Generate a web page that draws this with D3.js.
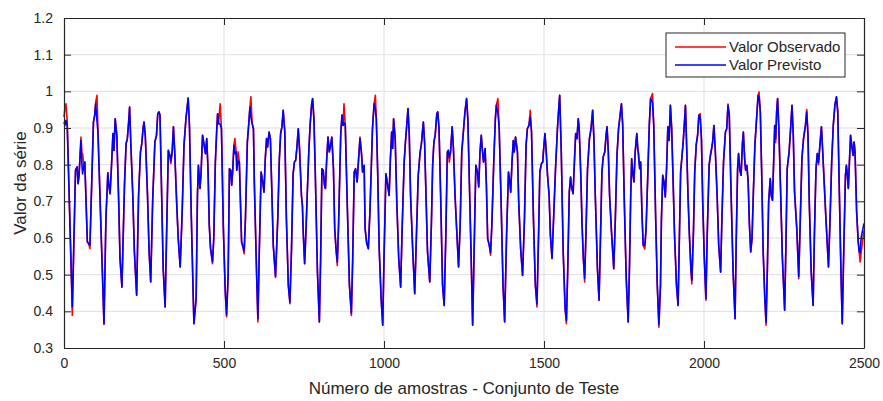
<!DOCTYPE html>
<html>
<head>
<meta charset="utf-8">
<script src="https://cdn.jsdelivr.net/npm/d3@7"></script>
<style>
  body { margin: 0; background: #fff; }
  text { font-family: "Liberation Sans", Arial, sans-serif; fill: #262626; }
</style>
</head>
<body>
<div id="chart"></div>
<script>
// Sample index of each read vertex (one line per stretch of ~310 samples)
var sampleIdx = [
  0,3,6,10,26,36,41,44,47,53,56,58,62,65,73,77,81,92,96,99,103,106,125,131,137,140,144,148,153,156,160,165,171,175,181,189,194,198,202,205,209,215,220,227,233,239,243,247,250,254,261,266,271,277,284,289,293,297,
  300,310,316,326,331,334,338,342,346,352,357,363,369,375,381,388,392,398,404,406,413,417,420,425,428,433,438,442,446,450,454,458,464,468,473,477,480,483,488,492,498,504,508,513,517,521,524,527,531,534,538,540,544,548,552,555,558,563,567,573,577,581,584,588,592,595,602,606,610,
  616,621,625,629,633,636,641,645,649,654,661,668,673,677,681,685,690,695,701,706,711,716,720,724,728,732,736,742,745,748,752,756,760,765,769,774,777,781,785,792,798,802,806,810,814,817,821,825,829,833,837,842,846,850,854,858,865,869,872,875,879,885,892,898,902,907,911,916,920,925,
  930,933,938,941,946,951,956,964,969,973,976,980,985,991,996,1000,1006,1010,1016,1020,1024,1027,1030,1035,1040,1046,1052,1057,1063,1067,1071,1075,1079,1083,1090,1096,1102,1107,1113,1117,1120,1123,1127,1131,1136,1143,1148,1152,1156,1160,1165,1168,1172,1177,1183,1188,1193,1198,1201,1204,1208,1213,1217,1222,1227,1233,1238,
  1243,1248,1253,1258,1262,1267,1272,1277,1282,1287,1292,1296,1300,1304,1307,1311,1316,1320,1324,1329,1333,1337,1343,1348,1351,1356,1360,1366,1372,1377,1383,1389,1393,1396,1400,1404,1407,1411,1417,1421,1427,1433,1439,1444,1448,1453,1457,1461,1467,1473,1478,1483,1487,1492,1496,1499,1503,1507,1511,1516,1520,1525,1530,1536,1542,1546,1549,
  1554,1560,1566,1570,1574,1579,1583,1586,1591,1595,1599,1603,1607,1610,1615,1619,1623,1627,1631,1636,1642,1647,1652,1656,1660,1667,1672,1676,1681,1685,1690,1694,1697,1701,1705,1711,1718,1723,1728,1733,1739,1742,1746,1751,1757,1763,1767,1771,1774,1777,1781,1785,1790,1793,1796,1799,1802,1806,1810,1815,1819,1824,1829,1833,1839,1843,1849,1854,1859,1864,
  1867,1871,1875,1879,1883,1887,1891,1895,1899,1903,1908,1914,1919,1923,1927,1931,1935,1939,1942,1946,1950,1954,1959,1962,1967,1971,1976,1980,1984,1988,1992,1996,2001,2006,2010,2016,2020,2023,2027,2031,2035,2041,2046,2052,2056,2061,2067,2071,2075,2079,2084,2091,2097,2101,2105,2108,2112,2116,2120,2123,2127,2130,2134,2138,2142,2146,2150,2154,2159,2165,2169,2172,2176,
  2180,2185,2190,2194,2198,2202,2207,2210,2214,2217,2221,2224,2227,2230,2234,2240,2245,2252,2256,2260,2266,2270,2275,2279,2283,2290,2296,2301,2306,2311,2317,2321,2325,2329,2335,2341,2345,2350,2354,2358,2363,2367,2371,2376,2381,2389,2394,2399,2404,2409,2414,2418,2423,2428,2432,2436,2442,2445,2448,2451,2454,2458,2463,2466,2469,2472,2477,2482,2485,2488,2491,2500
];

// Valor Observado (red)
var observed = [
  .93,.955,.966,.92,.389,.785,.794,.748,.771,.875,.83,.83,.798,.807,.589,.585,.571,.916,.935,.97,.989,.90,.364,.653,.778,.744,.721,.789,.885,.839,.925,.88,.698,.544,.466,.744,.857,.871,.916,.957,.853,.716,.562,.444,.716,.835,.857,.898,.916,.88,.716,.562,.48,.698,.862,.88,.939,.944,
  .935,.516,.412,.839,.825,.803,.835,.903,.835,.698,.598,.521,.662,.853,.925,.982,.907,.653,.435,.366,.435,.716,.798,.735,.771,.88,.853,.83,.871,.789,.635,.571,.53,.598,.807,.889,.939,.912,.966,.898,.625,.453,.385,.498,.789,.785,.744,.78,.853,.871,.835,.785,.835,.807,.68,.589,.58,.557,.653,.862,.907,.957,.985,.912,.898,.744,.498,.371,.553,
  .78,.753,.725,.816,.871,.848,.889,.871,.744,.58,.494,.653,.816,.885,.903,.948,.889,.653,.471,.421,.571,.775,.807,.812,.848,.898,.844,.716,.689,.607,.53,.616,.716,.835,.907,.966,.98,.925,.789,.507,.371,.544,.789,.785,.744,.735,.816,.875,.835,.853,.875,.789,.625,.571,.525,.635,.889,.935,.907,.966,.907,.698,.471,.389,.535,.78,.789,.753,.807,.875,
  .83,.78,.798,.625,.585,.571,.671,.898,.966,.989,.925,.789,.571,.435,.362,.544,.775,.753,.716,.816,.889,.844,.925,.871,.698,.544,.466,.635,.807,.862,.907,.953,.88,.716,.562,.448,.625,.771,.835,.857,.889,.916,.857,.725,.562,.48,.635,.798,.862,.88,.939,.944,.898,.716,.471,.416,.598,.835,.839,.807,.835,.903,.844,.716,.625,.521,.635,
  .835,.889,.944,.98,.925,.744,.562,.362,.58,.798,.78,.739,.835,.88,.844,.807,.844,.744,.598,.58,.553,.635,.807,.925,.962,.98,.898,.698,.471,.371,.607,.78,.753,.725,.807,.866,.835,.875,.835,.698,.571,.498,.653,.853,.898,.907,.948,.889,.653,.471,.412,.607,.78,.803,.807,.844,.885,.835,.771,.716,.607,.544,.653,.789,.898,.953,.989,
  .835,.562,.407,.366,.507,.725,.766,.739,.721,.807,.885,.871,.925,.898,.771,.635,.544,.48,.607,.789,.871,.898,.948,.871,.725,.516,.43,.58,.78,.821,.835,.88,.903,.835,.716,.616,.516,.653,.825,.898,.944,.966,.907,.698,.489,.371,.516,.716,.816,.78,.753,.835,.885,.844,.83,.789,.807,.671,.58,.57,.625,.762,.907,.98,.994,.907,.653,.471,.357,.471,
  .653,.771,.753,.712,.789,.903,.866,.962,.898,.771,.607,.471,.416,.598,.78,.821,.862,.916,.962,.844,.716,.616,.516,.475,.616,.78,.857,.88,.935,.939,.871,.698,.544,.43,.607,.798,.825,.839,.862,.907,.844,.716,.58,.507,.653,.807,.889,.898,.965,.935,.744,.507,.38,.607,.789,.83,.785,.771,.857,.889,.816,.785,.798,.753,.635,.562,.598,.716,.853,.935,.989,.998,.944,
  .789,.562,.435,.362,.516,.698,.762,.716,.703,.789,.907,.86,.944,.98,.898,.707,.544,.403,.58,.789,.835,.889,.962,.88,.725,.625,.489,.653,.816,.871,.907,.95,.88,.698,.507,.416,.607,.789,.83,.80,.862,.903,.835,.744,.653,.521,.653,.807,.907,.962,.985,.944,.725,.507,.366,.535,.771,.798,.771,.735,.798,.88,.844,.825,.862,.835,.671,.589,.562,.535,.56,.62
];

// Valor Previsto (blue)
var predicted = [
  .916,.907,.921,.907,.412,.785,.794,.748,.771,.866,.80,.775,.798,.807,.589,.585,.58,.916,.935,.966,.92,.889,.366,.653,.778,.744,.721,.789,.885,.839,.925,.88,.698,.544,.466,.744,.857,.871,.916,.957,.853,.716,.562,.444,.716,.835,.857,.898,.916,.88,.716,.562,.48,.698,.862,.88,.939,.944,
  .935,.516,.412,.839,.825,.81,.835,.903,.835,.698,.598,.521,.662,.853,.925,.982,.907,.653,.435,.366,.435,.716,.798,.735,.771,.88,.853,.83,.871,.789,.635,.571,.535,.598,.807,.889,.939,.912,.91,.898,.625,.453,.39,.498,.789,.785,.744,.78,.853,.83,.835,.785,.81,.807,.68,.589,.58,.565,.653,.862,.907,.957,.93,.912,.898,.744,.498,.38,.553,
  .78,.753,.725,.816,.871,.848,.889,.871,.744,.58,.494,.653,.816,.885,.903,.948,.889,.653,.471,.425,.571,.775,.807,.812,.848,.898,.844,.716,.689,.607,.53,.616,.716,.835,.907,.966,.98,.925,.789,.507,.371,.544,.789,.785,.744,.735,.816,.875,.835,.853,.875,.789,.625,.571,.535,.635,.889,.935,.907,.915,.907,.698,.471,.395,.535,.78,.789,.753,.807,.871,
  .825,.78,.798,.625,.585,.571,.671,.898,.966,.95,.925,.789,.571,.435,.362,.544,.775,.753,.716,.816,.889,.844,.925,.871,.698,.544,.466,.635,.807,.862,.907,.953,.88,.716,.562,.448,.625,.771,.835,.857,.889,.916,.857,.725,.562,.48,.635,.798,.862,.88,.939,.944,.898,.716,.471,.416,.598,.835,.839,.82,.835,.903,.844,.716,.625,.521,.635,
  .835,.889,.944,.98,.925,.744,.562,.362,.58,.798,.78,.739,.835,.88,.844,.807,.844,.744,.598,.58,.56,.635,.807,.925,.962,.94,.898,.698,.471,.371,.607,.78,.753,.725,.807,.866,.835,.875,.835,.698,.571,.498,.653,.853,.898,.907,.93,.889,.653,.471,.42,.607,.78,.803,.807,.844,.885,.835,.771,.716,.607,.544,.653,.789,.898,.953,.989,
  .835,.562,.407,.375,.507,.725,.766,.739,.721,.807,.885,.871,.925,.898,.771,.635,.544,.49,.607,.789,.871,.898,.948,.871,.725,.516,.43,.58,.78,.821,.835,.88,.903,.835,.716,.616,.516,.653,.825,.898,.944,.966,.907,.698,.489,.371,.516,.716,.816,.78,.753,.835,.885,.844,.816,.789,.807,.671,.58,.58,.625,.762,.907,.98,.97,.907,.653,.471,.365,.471,
  .653,.771,.753,.712,.789,.903,.866,.962,.898,.771,.607,.471,.416,.598,.78,.821,.862,.916,.962,.844,.716,.616,.516,.485,.616,.78,.857,.88,.935,.93,.871,.698,.544,.435,.607,.798,.825,.839,.862,.907,.844,.716,.58,.507,.653,.807,.889,.898,.962,.935,.744,.507,.38,.607,.789,.83,.785,.771,.857,.889,.816,.785,.798,.753,.635,.562,.598,.716,.853,.935,.989,.985,.944,
  .789,.562,.435,.37,.516,.698,.762,.716,.703,.789,.907,.871,.944,.98,.898,.707,.544,.403,.58,.789,.835,.889,.962,.88,.725,.625,.495,.653,.816,.871,.907,.944,.88,.698,.507,.416,.607,.789,.83,.807,.862,.903,.835,.744,.653,.521,.653,.807,.907,.962,.985,.944,.725,.507,.366,.535,.771,.798,.771,.735,.798,.88,.844,.825,.862,.835,.671,.589,.562,.56,.60,.64
];

var xTicks = [0, 500, 1000, 1500, 2000, 2500];
var yTicks = [0.3, 0.4, 0.5, 0.6, 0.7, 0.8, 0.9, 1.0, 1.1, 1.2];
var seriesNames = ['Valor Observado', 'Valor Previsto'];
var seriesColors = ['#ff0000', '#0000ff'];

// Set up the SVG container
var width = 883;
var height = 401;
var margin = { top: 18, right: 19, bottom: 53, left: 64 };
var innerW = width - margin.left - margin.right;
var innerH = height - margin.top - margin.bottom;
var axisColor = '#262626';

var svg = d3.select('#chart')
  .append('svg')
  .attr('width', width)
  .attr('height', height);

var g = svg.append('g')
  .attr('transform', 'translate(' + margin.left + ',' + margin.top + ')');

var x = d3.scaleLinear().domain([0, 2500]).range([0, innerW]);
var y = d3.scaleLinear().domain([0.3, 1.2]).range([innerH, 0]);

// grid lines
g.append('g')
  .selectAll('line.vgrid')
  .data(xTicks.slice(1, -1))
  .enter().append('line')
  .attr('x1', function(d) { return x(d); })
  .attr('x2', function(d) { return x(d); })
  .attr('y1', 0)
  .attr('y2', innerH)
  .style('stroke', '#dfdfdf')
  .style('stroke-width', 1);

g.append('g')
  .selectAll('line.hgrid')
  .data(yTicks.slice(1, -1))
  .enter().append('line')
  .attr('x1', 0)
  .attr('x2', innerW)
  .attr('y1', function(d) { return y(d); })
  .attr('y2', function(d) { return y(d); })
  .style('stroke', '#dfdfdf')
  .style('stroke-width', 1);

// the two series, red first so blue sits on top
var series = [observed, predicted];
var line = d3.line()
  .x(function(d, i) { return x(sampleIdx[i]); })
  .y(function(d) { return y(d); });

g.selectAll('path.series')
  .data(series)
  .enter().append('path')
  .attr('class', 'series')
  .attr('d', line)
  .style('fill', 'none')
  .style('stroke', function(d, i) { return seriesColors[i]; })
  .style('stroke-width', 1.6)
  .style('stroke-linejoin', 'round');

// axes with inward ticks on all four sides (box on)
var tickLen = 7;
function styleAxis(sel) {
  sel.select('.domain').style('stroke', axisColor).style('stroke-width', 1.2);
  sel.selectAll('.tick line').style('stroke', axisColor).style('stroke-width', 1);
  sel.selectAll('.tick text').style('font-size', '14px').style('fill', axisColor)
    .style('font-family', '"Liberation Sans", Arial, sans-serif');
}

var xAxis = g.append('g')
  .attr('transform', 'translate(0,' + innerH + ')')
  .call(d3.axisBottom(x).tickValues(xTicks).tickSizeInner(-tickLen).tickSizeOuter(0).tickPadding(10)
    .tickFormat(d3.format('d')));
styleAxis(xAxis);

var xTop = g.append('g')
  .call(d3.axisTop(x).tickValues(xTicks).tickSizeInner(-tickLen).tickSizeOuter(0).tickFormat(''));
styleAxis(xTop);

var yAxis = g.append('g')
  .call(d3.axisLeft(y).tickValues(yTicks).tickSizeInner(-tickLen).tickSizeOuter(0).tickPadding(11)
    .tickFormat(function(d) { return d3.format('~g')(d); }));
styleAxis(yAxis);

var yRight = g.append('g')
  .attr('transform', 'translate(' + innerW + ',0)')
  .call(d3.axisRight(y).tickValues(yTicks).tickSizeInner(-tickLen).tickSizeOuter(0).tickFormat(''));
styleAxis(yRight);

// axis labels
svg.append('text')
  .attr('x', margin.left + innerW / 2)
  .attr('y', 394)
  .style('text-anchor', 'middle')
  .style('font-size', '17px')
  .text('Número de amostras - Conjunto de Teste');

svg.append('text')
  .attr('transform', 'translate(26,' + (margin.top + innerH / 2) + ') rotate(-90)')
  .style('text-anchor', 'middle')
  .style('font-size', '17px')
  .text('Valor da série');

// legend
var legend = svg.append('g')
  .attr('transform', 'translate(666,33)');

legend.append('rect')
  .attr('width', 179)
  .attr('height', 44)
  .style('fill', '#fff')
  .style('stroke', axisColor)
  .style('stroke-width', 1);

var item = legend.selectAll('.legend')
  .data(seriesNames)
  .enter().append('g')
  .attr('class', 'legend')
  .attr('transform', function(d, i) { return 'translate(0,' + (14 + i * 18) + ')'; });

item.append('line')
  .attr('x1', 9)
  .attr('x2', 60)
  .style('stroke', function(d, i) { return seriesColors[i]; })
  .style('stroke-width', 1.6);

item.append('text')
  .attr('x', 63)
  .attr('dy', '.35em')
  .style('font-size', '15px')
  .text(function(d) { return d; });
</script>
</body>
</html>
